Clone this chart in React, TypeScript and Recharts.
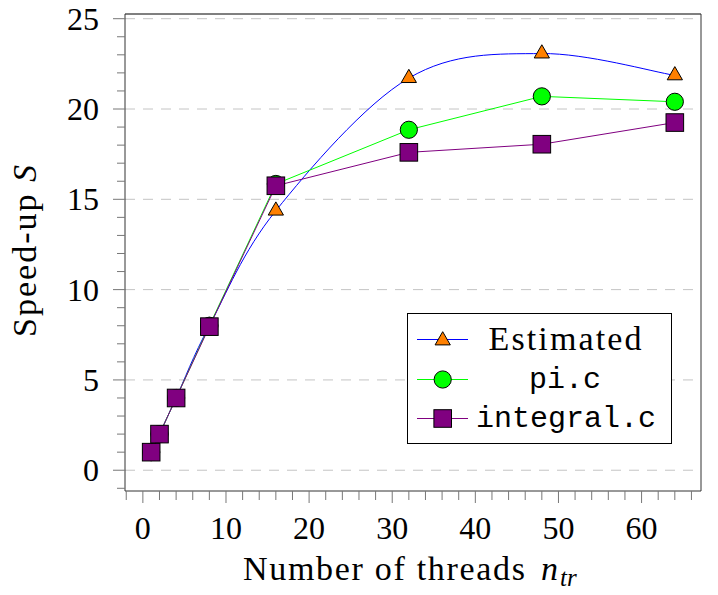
import React from 'react';
import { LineChart, Line, XAxis, YAxis, CartesianGrid, ReferenceLine } from 'recharts';

// ---- data ----
const threads = [1, 2, 4, 8, 16, 32, 48, 64];
const estimated = [1, 2, 4, 8, 14.37, 21.71, 23.07, 21.86];
const piC = [1, 2, 4, 8, 15.85, 18.85, 20.7, 20.4];
const integralC = [1, 2, 4, 7.95, 15.75, 17.6, 18.05, 19.25];

const seriesNames = ['Estimated', 'pi.c', 'integral.c'];

const xMajorTicks = [0, 10, 20, 30, 40, 50, 60];
const xMinorTicks = [-2, 0, 2, 4, 6, 8, 10, 12, 14, 16, 18, 20, 22, 24, 26, 28, 30, 32, 34, 36, 38, 40, 42, 44, 46, 48, 50, 52, 54, 56, 58, 60, 62, 64, 66];
const yMajorTicks = [0, 5, 10, 15, 20, 25];
const yMinorTicks = [-1, 0, 1, 2, 3, 4, 5, 6, 7, 8, 9, 10, 11, 12, 13, 14, 15, 16, 17, 18, 19, 20, 21, 22, 23, 24, 25];

const X_DOMAIN: [number, number] = [-2.15, 67.15];
const Y_DOMAIN: [number, number] = [-1.15, 25.26];

const rows = threads.map((n, i) => ({ n, est: estimated[i], pi: piC[i], integ: integralC[i] }));

const SERIF = 'Liberation Serif';
const MONO = 'Liberation Mono';

// smooth (Catmull-Rom like) curve factory, similar to pgfplots "smooth"
function smoothCurve(context: any) {
  let pts: [number, number][] = [];
  return {
    areaStart() {},
    areaEnd() {},
    lineStart() { pts = []; },
    point(x: number, y: number) { pts.push([+x, +y]); },
    lineEnd() {
      const n = pts.length;
      if (!n) return;
      context.moveTo(pts[0][0], pts[0][1]);
      if (n === 1) return;
      const k = 1 / 6;
      for (let i = 0; i < n - 1; i++) {
        const p0 = pts[i - 1] || pts[i];
        const p1 = pts[i];
        const p2 = pts[i + 1];
        const p3 = pts[i + 2] || pts[i + 1];
        context.bezierCurveTo(
          p1[0] + (p2[0] - p0[0]) * k, p1[1] + (p2[1] - p0[1]) * k,
          p2[0] - (p3[0] - p1[0]) * k, p2[1] - (p3[1] - p1[1]) * k,
          p2[0], p2[1]
        );
      }
    },
  };
}

const TRI_R = 8.8;
const triPath = (cx: number, cy: number) =>
  `M${cx},${cy - TRI_R} L${cx + TRI_R * 0.866},${cy + TRI_R * 0.5} L${cx - TRI_R * 0.866},${cy + TRI_R * 0.5} Z`;

const TriDot = (p: any) => {
  if (p.cx == null || p.cy == null) return <g key={p.key} />;
  return <path key={p.key} d={triPath(p.cx, p.cy)} fill="#ff8000" stroke="#000" strokeWidth={1} />;
};
const CircDot = (p: any) => {
  if (p.cx == null || p.cy == null) return <g key={p.key} />;
  return <circle key={p.key} cx={p.cx} cy={p.cy} r={8.6} fill="#00ff00" stroke="#000" strokeWidth={1} />;
};
const SQ = 17.6;
const SqDot = (p: any) => {
  if (p.cx == null || p.cy == null) return <g key={p.key} />;
  return <rect key={p.key} x={p.cx - SQ / 2} y={p.cy - SQ / 2} width={SQ} height={SQ} fill="#800080" stroke="#000" strokeWidth={1} />;
};

const XTick = (props: any) => {
  const { x, y, payload } = props;
  const v = payload.value;
  const major = xMajorTicks.includes(v);
  return (
    <g>
      <line x1={x} x2={x} y1={y} y2={y + (major ? 12 : 9)} stroke="#777" strokeWidth={1} />
      {major && (
        <text x={x} y={y + 48} textAnchor="middle" fontFamily={SERIF} fontSize={32} fill="#000">
          {v}
        </text>
      )}
    </g>
  );
};

const YTick = (props: any) => {
  const { x, y, payload } = props;
  const v = payload.value;
  const major = yMajorTicks.includes(v);
  return (
    <g>
      <line x1={x - (major ? 12 : 8)} x2={x} y1={y} y2={y} stroke="#777" strokeWidth={1} />
      {major && (
        <text x={x - 26} y={y + 11} textAnchor="end" fontFamily={SERIF} fontSize={32} fill="#000">
          {v}
        </text>
      )}
    </g>
  );
};

const Overlay = () => (
  <svg width={718} height={595} style={{ position: 'absolute', left: 0, top: 0, pointerEvents: 'none' }}>
    {/* y axis label */}
    <text transform="translate(36,251) rotate(-90)" textAnchor="middle" fontFamily={SERIF} fontSize={34} fill="#000" textLength={172} lengthAdjust="spacing">
      Speed-up <tspan fontStyle="italic">S</tspan>
    </text>
    {/* x axis label */}
    <text x={243} y={580} fontFamily={SERIF} fontSize={34} fill="#000" textLength={282} lengthAdjust="spacing">
      Number of threads
    </text>
    <text x={541} y={580} fontFamily={SERIF} fontSize={34} fontStyle="italic" fill="#000">n</text>
    <text x={560} y={586} fontFamily={SERIF} fontSize={25} fontStyle="italic" fill="#000">tr</text>
    {/* legend */}
    <rect x={407.5} y={313.5} width={264} height={130} fill="#fff" stroke="#000" strokeWidth={1} />
    <line x1={417} x2={468} y1={339.5} y2={339.5} stroke="#0000ff" strokeWidth={1} />
    <path d={triPath(442.7, 340.5)} fill="#ff8000" stroke="#000" strokeWidth={1} />
    <text x={565} y={350} textAnchor="middle" fontFamily={SERIF} fontSize={34} fill="#000" textLength={153} lengthAdjust="spacing">
      {seriesNames[0]}
    </text>
    <line x1={417} x2={468} y1={379.5} y2={379.5} stroke="#00ff00" strokeWidth={1} />
    <circle cx={442.7} cy={379.5} r={8.6} fill="#00ff00" stroke="#000" strokeWidth={1} />
    <text x={565} y={388} textAnchor="middle" fontFamily={MONO} fontSize={30} fill="#000">
      {seriesNames[1]}
    </text>
    <line x1={417} x2={468} y1={418.5} y2={418.5} stroke="#800080" strokeWidth={1} />
    <rect x={442.7 - SQ / 2} y={418.5 - SQ / 2} width={SQ} height={SQ} fill="#800080" stroke="#000" strokeWidth={1} />
    <text x={566} y={427} textAnchor="middle" fontFamily={MONO} fontSize={30} fill="#000">
      {seriesNames[2]}
    </text>
  </svg>
);

export default function App() {
  return (
    <div style={{ position: 'absolute', left: 0, top: 0, width: 718, height: 595, background: '#fff' }}>
      <LineChart width={718} height={595} data={rows} margin={{ top: 14, right: 17, left: 0, bottom: 0 }}>
        <CartesianGrid vertical={false} horizontalValues={yMajorTicks} stroke="#c4c4c4" strokeDasharray="10 8" />
        <XAxis
          dataKey="n"
          type="number"
          domain={X_DOMAIN}
          allowDataOverflow
          ticks={xMinorTicks}
          interval={0}
          tickSize={0}
          tickMargin={0}
          tickLine={false}
          tick={<XTick />}
          height={104}
          axisLine={{ stroke: '#333', strokeWidth: 1 }}
        />
        <YAxis
          type="number"
          domain={Y_DOMAIN}
          allowDataOverflow
          ticks={yMinorTicks}
          interval={0}
          tickSize={0}
          tickMargin={0}
          tickLine={false}
          tick={<YTick />}
          width={125}
          axisLine={{ stroke: '#333', strokeWidth: 1 }}
        />
        <ReferenceLine y={Y_DOMAIN[1]} stroke="#000" strokeWidth={1} ifOverflow="extendDomain" />
        <ReferenceLine x={X_DOMAIN[1]} stroke="#333" strokeWidth={1} ifOverflow="extendDomain" />
        <Line dataKey="est" name={seriesNames[0]} type={smoothCurve as any} stroke="#0000ff" strokeWidth={1} dot={TriDot} activeDot={false} isAnimationActive={false} />
        <Line dataKey="pi" name={seriesNames[1]} type="linear" stroke="#00ff00" strokeWidth={1} dot={CircDot} activeDot={false} isAnimationActive={false} />
        <Line dataKey="integ" name={seriesNames[2]} type="linear" stroke="#800080" strokeWidth={1} dot={SqDot} activeDot={false} isAnimationActive={false} />
      </LineChart>
      <Overlay />
    </div>
  );
}
